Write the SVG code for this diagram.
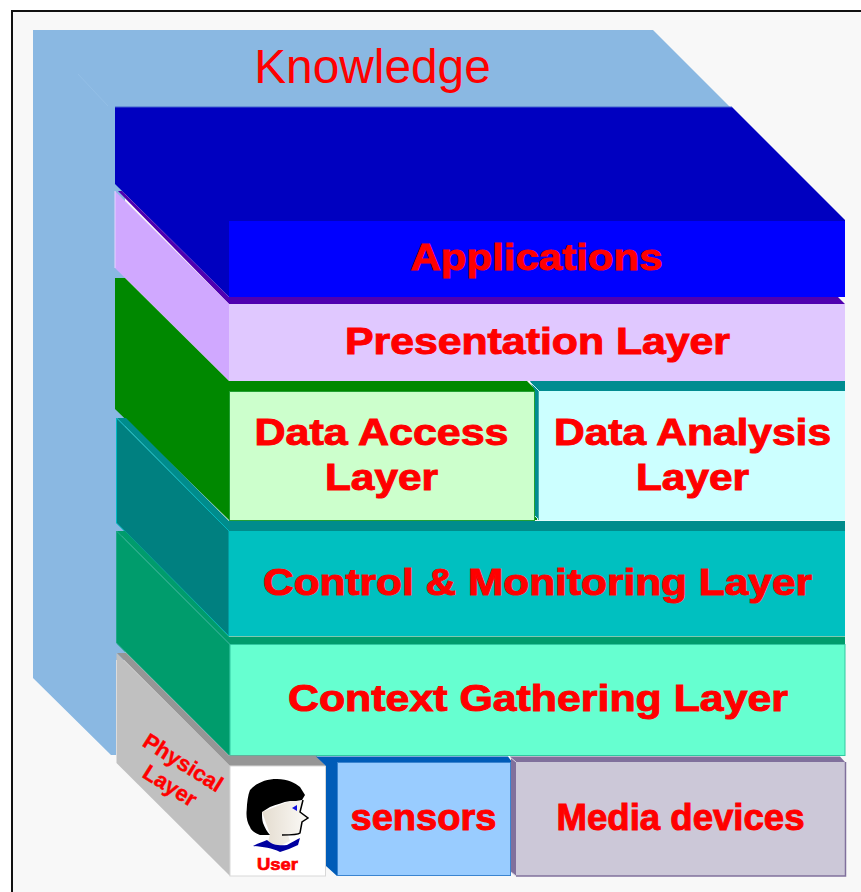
<svg xmlns="http://www.w3.org/2000/svg" width="861" height="892" viewBox="0 0 861 892">
<style>
text{font-family:"Liberation Sans",Arial,sans-serif;fill:#ff0000;text-anchor:middle}
.b{font-weight:bold;font-size:37px;stroke:#ff0000;stroke-width:1px;paint-order:stroke}
</style>
<defs>
<linearGradient id="face" x1="0" y1="0.5" x2="1" y2="0.5"><stop offset="0" stop-color="#e4dccf"/><stop offset="1" stop-color="#fbfaf7"/></linearGradient>
</defs>
<rect width="861" height="892" fill="#f8f8f8"/>
<path d="M0 0H861V10H12V892H0Z" fill="#fff"/>
<path d="M12 892V11H861" fill="none" stroke="#111" stroke-width="2"/>
<g id="knowledge">
<path d="M33 30H653L732 109H125V660H116V755H111L33 678Z" fill="#8ab8e2"/>
<path d="M78 74L108 106" stroke="#9cc4e8" stroke-width=".5" fill="none"/>
<text x="372.500" y="83" font-size="47.800">Knowledge</text>
</g>
<g id="applications">
<path d="M115 107H732L845 220V297H229L115 184Z" fill="#0000c0"/>
<path d="M115 107H732" stroke="#4060d0" fill="none"/>
<rect x="229" y="221" width="616" height="76" fill="#0000ff"/>
<text class="b" x="536.500" y="270" textLength="252" lengthAdjust="spacingAndGlyphs">Applications</text>
</g>
<g id="presentation">
<path d="M118 191H122L229 297H838L845 304H229Z" fill="#5000b0"/>
<path d="M115 191L229 304V381H229L115 268Z" fill="#d0a8ff"/>
<path d="M115 191V268" stroke="#e6d4ff" fill="none"/>
<rect x="229" y="304" width="616" height="77" fill="#e0c8ff"/>
<text class="b" x="537.500" y="354" textLength="385" lengthAdjust="spacingAndGlyphs">Presentation Layer</text>
</g>
<g id="data-access">
<path d="M115 278H125L229 381H527L537 391V520H229L115 409Z" fill="#008800"/>
<rect x="229.500" y="391.500" width="305" height="129" fill="#ccffcc" stroke="#22a033"/>
<text class="b" x="381.500" y="445" textLength="254" lengthAdjust="spacingAndGlyphs">Data Access</text>
<text class="b" x="381.500" y="490" textLength="113" lengthAdjust="spacingAndGlyphs">Layer</text>
</g>
<g id="data-analysis">
<path d="M530 381H845V391H539V520L535 517V391Z" fill="#008c90"/>
<path d="M530 382L539 391M535 516L539 520" stroke="#c8f0f0" fill="none"/>
<rect x="538.500" y="391" width="306.500" height="129.500" fill="#ccffff"/>
<path d="M538.500 391V520" stroke="#40a8b0" fill="none"/>
<text class="b" x="692.500" y="445" textLength="277" lengthAdjust="spacingAndGlyphs">Data Analysis</text>
<text class="b" x="692.500" y="490" textLength="113" lengthAdjust="spacingAndGlyphs">Layer</text>
</g>
<g id="control-monitoring">
<path d="M117 418H126L229 521H845V531H229Z" fill="#008c8c"/>
<path d="M116.500 418L229 531V636L116.500 523Z" fill="#008080" stroke="#00b8c0"/>
<rect x="229" y="531" width="616" height="105" fill="#00c0c0"/>
<text class="b" x="537.500" y="595" textLength="549" lengthAdjust="spacingAndGlyphs">Control &amp; Monitoring Layer</text>
</g>
<g id="context-gathering">
<path d="M116.500 531H125L229 636.500H845V644H229Z" fill="#009c6c"/>
<path d="M116.500 531L230 645V755H229L116.500 643Z" fill="#009c6c" stroke="#20a888"/>
<path d="M122 536L230 644" stroke="#30b090" stroke-width=".7" fill="none"/>
<rect x="230" y="644.500" width="615" height="111" fill="#66ffd0" stroke="#30c8a0"/>
<text class="b" x="538" y="711" textLength="500" lengthAdjust="spacingAndGlyphs">Context Gathering Layer</text>
</g>
<g id="physical-layer">
<path d="M116.500 653L230 766V876L116.500 763Z" fill="#c0c0c0"/>
<path d="M117 653H126L122 649L229 755.500H316L326 766H230Z" fill="#969696"/>
<text transform="translate(179 769) rotate(32)" x="0" y="0" font-size="22" font-weight="bold" stroke="#ff0000" stroke-width=".4">Physical</text>
<text transform="translate(166 792) rotate(32)" x="0" y="0" font-size="22" font-weight="bold" stroke="#ff0000" stroke-width=".4">Layer</text>
</g>
<g id="user">
<rect x="230" y="766" width="95.500" height="110" fill="#fff" stroke="#d8d8d8"/>
<path d="M262 812L290 801H303L300 812L308 818L302 822L300 833L288 835L290 841L280 846L268 842L270 834Z" fill="url(#face)"/>
<path d="M253 846C258 843 263 842 267 840C272 845 280 846 287 845C292 842 296 840 300 838L298 845C292 848 286 850 280 852C272 848 262 847 253 846Z" fill="#0000a0"/>
<path d="M270 835L260 835C254 833 251 830 250 827C247 822 246 816 246.700 810C247 802 248 795 250 790C256 783 266 779 277 779C288 779 295 783 300 787L305 795L302 800C298 801 294 801 290 801C283 802 276 805 270 807L262 812C262 816 262 820 263 823C265 828 267 832 270 835Z" fill="#000"/>
<path d="M303 800L300 812L308 818L302 822L300 833C298 835 290 835 282 835" fill="none" stroke="#000" stroke-width="1.500"/>
<path d="M292 808L297 805V811Z" fill="#1010e0"/>
<text x="277.500" y="870" font-size="17" font-weight="bold" stroke="#ff0000" stroke-width=".7" textLength="41" lengthAdjust="spacingAndGlyphs">User</text>
</g>
<g id="sensors">
<path d="M316 756.500H508L512 762H337V876L326 866V766Z" fill="#005cb8"/>
<rect x="337.500" y="762.500" width="173" height="113" fill="#99ccff" stroke="#3a84d0"/>
<text class="b" x="423.500" y="830" textLength="146" lengthAdjust="spacingAndGlyphs">sensors</text>
</g>
<g id="media">
<path d="M510 756.500H840L845 762H516V876L511 872V758Z" fill="#80709c"/>
<path d="M510 757L516 762M511 872L516 876" stroke="#d8d4e4" fill="none"/>
<rect x="516" y="762" width="329" height="114" fill="#ccc8d8"/>
<path d="M516 876H845.500V762" fill="none" stroke="#80709c" stroke-width="1.500"/>
<text class="b" x="680.500" y="830" textLength="248" lengthAdjust="spacingAndGlyphs">Media devices</text>
</g>
</svg>
